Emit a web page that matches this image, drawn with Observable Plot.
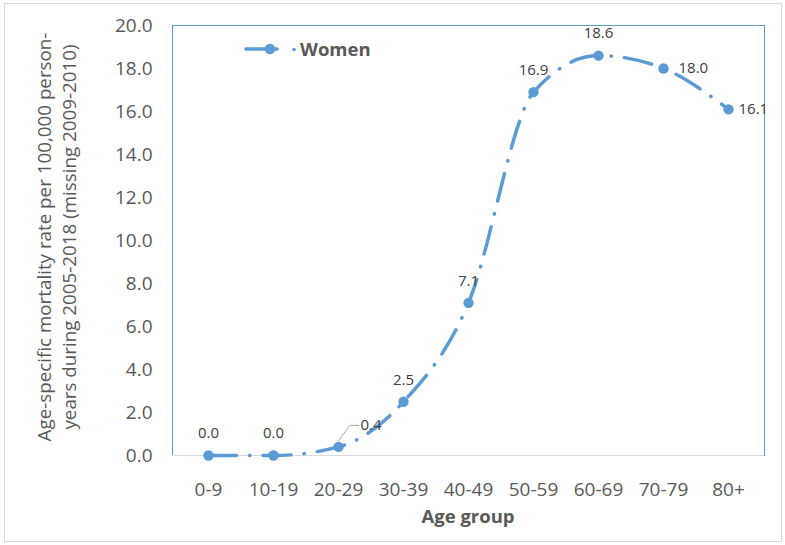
<!DOCTYPE html>
<html>
<head>
<meta charset="utf-8">
<script src="https://cdn.jsdelivr.net/npm/d3@7"></script>
<script src="https://cdn.jsdelivr.net/npm/@observablehq/plot@0.6"></script>
<style>
  html, body { margin: 0; padding: 0; background: #fff; }
  #wrap { position: relative; width: 785px; height: 545px; }
  #border { position: absolute; left: 4px; top: 3px; width: 776px; height: 537px; border: 1px solid #d9d9d9; pointer-events: none; }
</style>
</head>
<body>
<div id="wrap"><div id="border"></div></div>
<script>
const ageGroups = ["0-9", "10-19", "20-29", "30-39", "40-49", "50-59", "60-69", "70-79", "80+"];
const rates = [0.0, 0.0, 0.4, 2.5, 7.1, 16.9, 18.6, 18.0, 16.1];
const yTicks = [0, 2, 4, 6, 8, 10, 12, 14, 16, 18, 20];
const seriesName = "Women";
const yTitle = ["Age-specific mortality rate per 100,000 person-", "years during 2005-2018 (missing 2009-2010)"];
const xTitle = "Age group";

const data = ageGroups.map((g, i) => ({group: g, rate: rates[i]}));
const blue = "#5B9BD5";
const font = "'Open Sans', sans-serif";

// label placement: "top" or "right" or "leader"
const labelPos = ["top", "top", "leader", "top", "top", "top", "top", "right", "right"];
const rightDx = {"70-79": 15, "80+": 10};
const topData = data.filter((d, i) => labelPos[i] === "top");
const rightData = data.filter((d, i) => labelPos[i] === "right");
const leaderData = data.filter((d, i) => labelPos[i] === "leader");
const fmt = d3.format(".1f");

const chart = Plot.plot({
  width: 785,
  height: 545,
  marginLeft: 172,
  marginRight: 21,
  marginTop: 25,
  marginBottom: 90,
  style: {fontFamily: font, background: "transparent", overflow: "visible"},
  x: {type: "point", domain: ageGroups, padding: 0.5, label: null},
  y: {domain: [0, 20], ticks: yTicks, label: null, tickFormat: fmt},
  marks: [
    Plot.frame({stroke: blue, strokeWidth: 1}),
    Plot.ruleY([0], {stroke: "#d9d9d9", strokeWidth: 1.2}),
    Plot.axisY({ticks: yTicks, tickSize: 0, tickPadding: 20, tickFormat: fmt, fontSize: 19, fill: "#595959", label: null, style: {letterSpacing: "0.3px"}}),
    Plot.axisX({tickSize: 0, tickPadding: 27, fontSize: 19, fill: "#595959", label: null, style: {letterSpacing: "0.3px"}}),
    Plot.line(data, {x: "group", y: "rate", stroke: blue, strokeWidth: 3.5, curve: "monotone-x", strokeDasharray: "28,13,0.5,13", strokeLinecap: "round"}),
    Plot.dot(data, {x: "group", y: "rate", r: 5.2, fill: blue, stroke: null}),
    Plot.text(topData, {x: "group", y: "rate", text: d => fmt(d.rate), dy: -22, fontSize: 15, fill: "#404040"}),
    ...rightData.map(d => Plot.text([d], {x: "group", y: "rate", text: d => fmt(d.rate), dx: rightDx[d.group], textAnchor: "start", fontSize: 15, fill: "#404040"})),
    Plot.text(leaderData, {x: "group", y: "rate", text: d => fmt(d.rate), dx: 22, dy: -22, textAnchor: "start", fontSize: 15, fill: "#404040"})
  ]
});

const svg = d3.select(chart);
svg.style("position", "absolute").style("left", "0px").style("top", "0px");

// leader line for the 0.4 label
const xs = chart.scale("x"), ys = chart.scale("y");
leaderData.forEach(d => {
  const px = xs.apply(d.group), py = ys.apply(d.rate);
  svg.append("polyline")
    .attr("points", `${px},${py - 5} ${px + 12},${py - 21} ${px + 21},${py - 21}`)
    .attr("fill", "none").attr("stroke", "#a6a6a6").attr("stroke-width", 1);
});

// y title (two lines)
const yt = svg.append("text")
  .attr("transform", "translate(51,237) rotate(-90)")
  .attr("text-anchor", "middle")
  .attr("font-family", font).attr("font-size", 18.8).attr("fill", "#595959");
yTitle.forEach((t, i) => yt.append("tspan").attr("x", 0).attr("dy", i === 0 ? 0 : 24.5).text(t));

// x title
svg.append("text")
  .attr("x", (172 + 764) / 2).attr("y", 523)
  .attr("text-anchor", "middle")
  .attr("font-family", font).attr("font-size", 18.5).attr("font-weight", "bold").attr("fill", "#595959")
  .text(xTitle);

// legend
const lg = svg.append("g").attr("transform", "translate(246,49)");
lg.append("line").attr("x1", 0).attr("x2", 31).attr("y1", 0).attr("y2", 0).attr("stroke", blue).attr("stroke-width", 3.5).attr("stroke-linecap", "round");
lg.append("circle").attr("cx", 24).attr("cy", 0).attr("r", 5.2).attr("fill", blue);
lg.append("circle").attr("cx", 48).attr("cy", 0.5).attr("r", 1.8).attr("fill", blue);
lg.append("text").attr("x", 54).attr("y", 6.5).attr("text-anchor", "start")
  .attr("font-family", font).attr("font-size", 18.5).attr("font-weight", "bold").attr("fill", "#595959").text(seriesName);

document.getElementById("wrap").appendChild(chart);
</script>
</body>
</html>
